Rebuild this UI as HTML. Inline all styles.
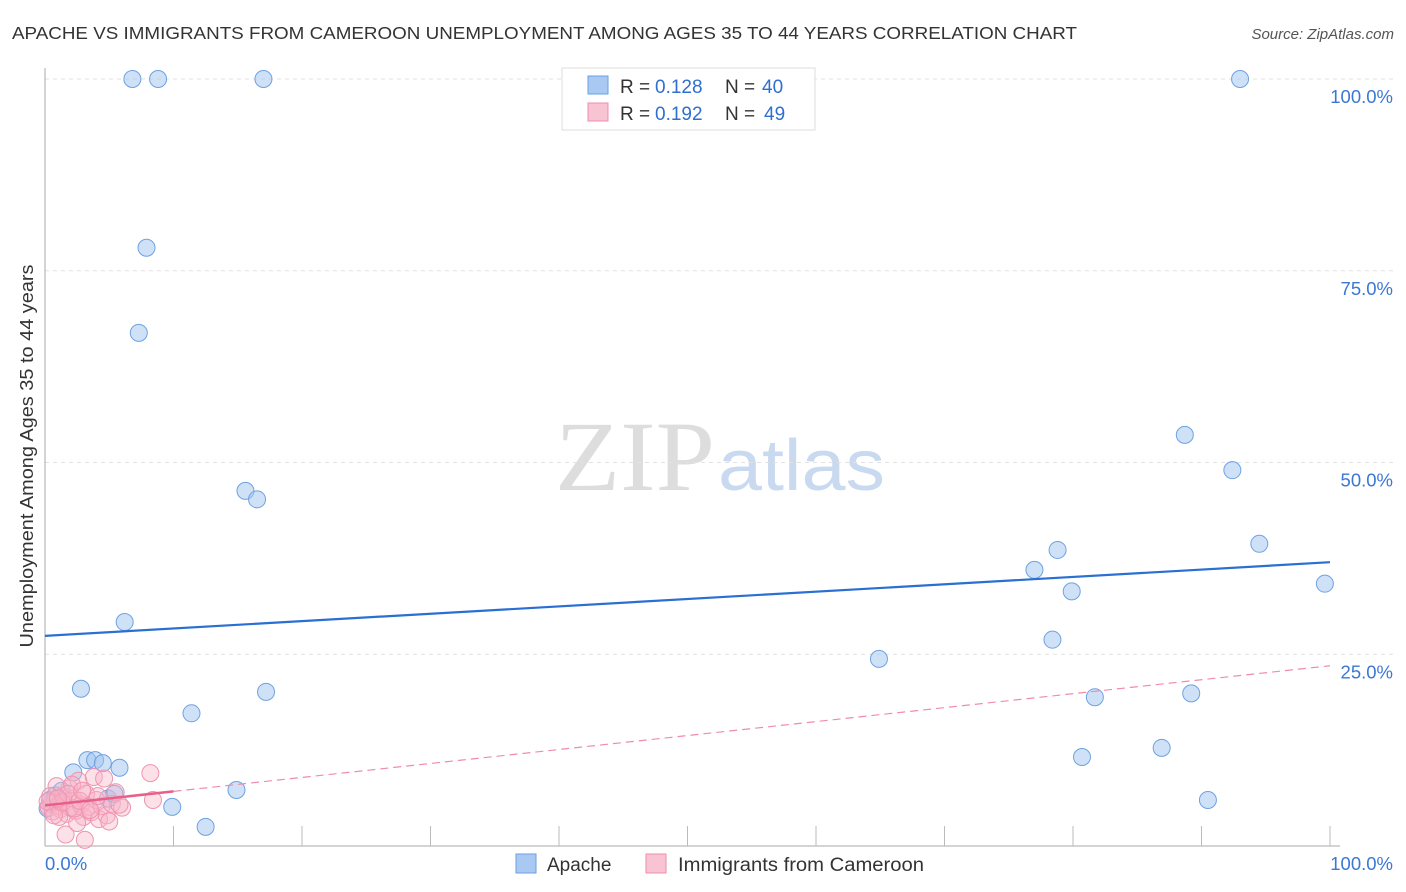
<!DOCTYPE html>
<html><head><meta charset="utf-8"><style>
body{margin:0;background:#fff;font-family:"Liberation Sans",sans-serif}
svg{display:block}
</style></head><body>
<svg id="c" width="1406" height="892">
<text x="12" y="39" font-size="17.5" fill="#333" textLength="1065" lengthAdjust="spacingAndGlyphs">APACHE VS IMMIGRANTS FROM CAMEROON UNEMPLOYMENT AMONG AGES 35 TO 44 YEARS CORRELATION CHART</text>
<text x="1394" y="39" font-size="15" fill="#555" font-style="italic" text-anchor="end">Source: ZipAtlas.com</text>
<text x="555" y="490" font-size="100" fill="#ddd" textLength="160" lengthAdjust="spacingAndGlyphs" font-family="Liberation Serif,serif">ZIP</text>
<text x="718" y="490" font-size="72" fill="#c9d9f0" textLength="167" lengthAdjust="spacingAndGlyphs">atlas</text>
<text transform="translate(33,456) rotate(-90)" font-size="18" fill="#333" text-anchor="middle" textLength="383" lengthAdjust="spacingAndGlyphs">Unemployment Among Ages 35 to 44 years</text>
<g id="grid"></g><g id="marks"></g>
<g>
<rect x="562" y="68" width="253" height="62" fill="#fff" stroke="#ddd"/>
<rect x="588" y="76" width="20" height="18" fill="#a9c9f3" stroke="#6aa0e0"/>
<rect x="588" y="103" width="20" height="18" fill="#f8c3d3" stroke="#f08cab"/>
<text x="620" y="93" font-size="19" fill="#333">R = </text><text x="655" y="93" font-size="19" fill="#2f6fd0">0.128</text>
<text x="725" y="93" font-size="19" fill="#333">N = </text><text x="762" y="93" font-size="19" fill="#2f6fd0">40</text>
<text x="620" y="120" font-size="19" fill="#333">R = </text><text x="655" y="120" font-size="19" fill="#2f6fd0">0.192</text>
<text x="725" y="120" font-size="19" fill="#333">N = </text><text x="764" y="120" font-size="19" fill="#2f6fd0">49</text>
</g>
<g>
<rect x="516" y="854" width="20" height="19" fill="#a9c9f3" stroke="#6aa0e0"/>
<text x="547" y="871" font-size="19" fill="#333">Apache</text>
<rect x="646" y="854" width="20" height="19" fill="#f8c3d3" stroke="#f08cab"/>
<text x="678" y="871" font-size="19" fill="#333" textLength="246" lengthAdjust="spacingAndGlyphs">Immigrants from Cameroon</text>
</g>
</svg>
<script>
const yTicks=[100,75,50,25];
const yTickLabels=["100.0%","75.0%","50.0%","25.0%"];
const xTicks=[10,20,30,40,50,60,70,80,90,100];
const apacheX=[6.8,8.8,17.0,93.0,7.9,7.3,15.6,16.5,6.2,2.8,11.4,17.2,3.3,3.9,4.5,5.8,2.2,4.9,5.4,9.9,14.9,12.5,64.9,88.7,92.4,78.8,77.0,79.9,94.5,99.6,78.4,81.7,89.2,80.7,86.9,90.5,0.4,0.8,0.2,1.3];
const apacheY=[100,100,100,100,78.0,66.9,46.3,45.2,29.2,20.5,17.3,20.1,11.2,11.2,10.8,10.2,9.6,6.2,6.8,5.1,7.3,2.5,24.4,53.6,49.0,38.6,36.0,33.2,39.4,34.2,26.9,19.4,19.9,11.6,12.8,6.0,6.0,6.6,4.9,7.2];
const camX=[0.3,0.5,0.6,0.8,1.0,1.2,1.4,1.5,1.7,1.9,2.0,2.2,2.4,2.6,2.8,3.0,3.2,3.4,3.6,3.8,4.0,4.2,4.4,4.6,4.8,5.0,5.2,5.5,6.0,1.6,3.1,0.9,1.1,2.1,2.5,0.4,0.7,1.3,1.8,2.3,2.7,3.5,4.1,8.2,8.4,5.8,0.2,1.0,2.9];
const camY=[5.0,5.5,4.5,6.0,5.2,4.8,6.5,5.8,4.2,7.5,5.0,6.2,4.6,8.5,5.4,3.8,6.8,5.1,4.4,9.0,6.0,3.5,5.2,8.8,4.0,3.2,5.5,7.0,5.0,1.5,0.8,7.8,3.8,8.0,3.0,6.5,4.0,5.7,6.8,4.9,5.9,4.7,6.5,9.5,6.0,5.4,5.8,6.2,7.2];
const apacheTrend=[27.4,37.0];
const camTrend=[5.3,23.5];
const camSolidEnd=10;
const NS="http://www.w3.org/2000/svg";
const X=v=>45+v*12.85, Y=v=>846-v*7.67;
function mk(t,a,p){const e=document.createElementNS(NS,t);for(const k in a)e.setAttribute(k,a[k]);p.appendChild(e);return e;}
const g=document.getElementById('grid'),m=document.getElementById('marks');
yTicks.forEach((t,i)=>{
 const l=mk('line',{x1:45,x2:1394,y1:Y(t),y2:Y(t),stroke:'#e2e2e2','stroke-dasharray':'4,4'},g);
 
 
 const tx=mk('text',{x:1393,y:Y(t)+24,'font-size':18.5,fill:'#3b78d4','text-anchor':'end'},g);tx.textContent=yTickLabels[i];
 
 
});
const ya=mk('line',{x1:45,x2:45,y1:68,y2:846,stroke:'#aaa'},g);


const xa=mk('line',{x1:45,x2:1340,y1:846,y2:846,stroke:'#aaa'},g);


xTicks.forEach(t=>{const l=mk('line',{x1:X(t),x2:X(t),y1:826,y2:846,stroke:'#bbb'},g);
 
 });
const x0=mk('text',{x:45,y:870,'font-size':18.5,fill:'#3b78d4'},g);x0.textContent="0.0%";


const x1=mk('text',{x:1393,y:870,'font-size':18.5,fill:'#3b78d4','text-anchor':'end'},g);x1.textContent="100.0%";


apacheX.forEach((v,i)=>{const c=mk('circle',{cx:X(v),cy:Y(apacheY[i]),r:8.5,fill:'rgba(160,196,240,0.5)',stroke:'#6ea2e2','stroke-width':1},m);
 
 });
camX.forEach((v,i)=>{const c=mk('circle',{cx:X(v),cy:Y(camY[i]),r:8.5,fill:'rgba(248,180,200,0.4)',stroke:'#f094b0','stroke-width':1},m);
 
 });
const ct=v=>camTrend[0]+(camTrend[1]-camTrend[0])*v/100;
const pd=mk('line',{x1:X(camSolidEnd),y1:Y(ct(camSolidEnd)),x2:X(100),y2:Y(camTrend[1]),stroke:'#f08cab','stroke-width':1.2,'stroke-dasharray':'8,5'},m);


const ps=mk('line',{x1:X(0),y1:Y(camTrend[0]),x2:X(camSolidEnd),y2:Y(ct(camSolidEnd)),stroke:'#e8608a','stroke-width':2.5},m);


const bt=mk('line',{x1:X(0),y1:Y(apacheTrend[0]),x2:X(100),y2:Y(apacheTrend[1]),stroke:'#2a6fd2','stroke-width':2.2},m);


</script>
</body></html>
